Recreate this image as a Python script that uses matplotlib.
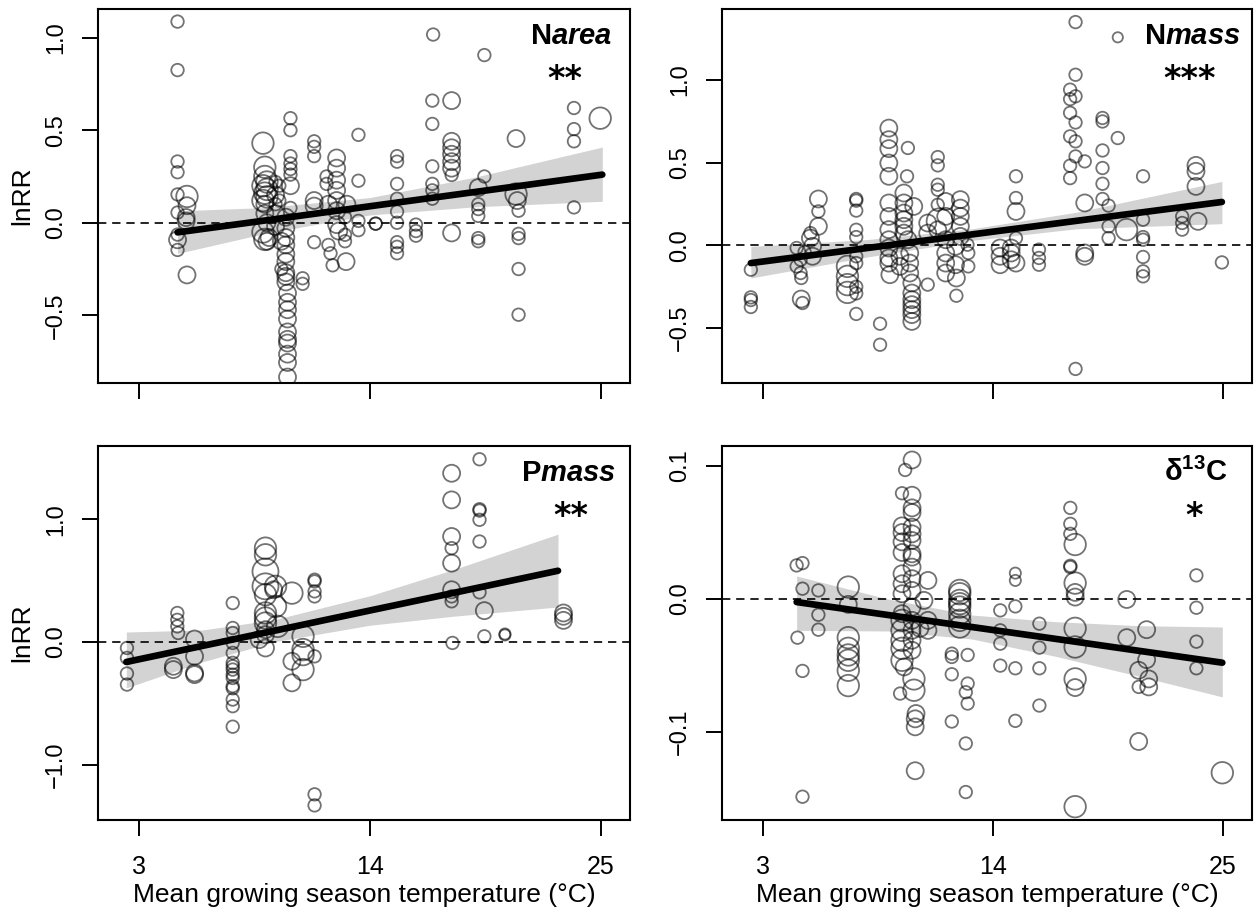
import numpy as np
import matplotlib
matplotlib.use('Agg')
import matplotlib.pyplot as plt

plt.rcParams['font.family'] = ['Liberation Sans', 'DejaVu Sans']
plt.rcParams['mathtext.fontset'] = 'custom'
plt.rcParams['mathtext.it'] = 'Liberation Sans:italic:bold'
plt.rcParams['mathtext.rm'] = 'Liberation Sans:bold'
plt.rcParams['mathtext.bf'] = 'Liberation Sans:bold'

# ---- data (x = mean growing season temp, y = lnRR, w = weight) ----
narea_x = [4.84, 4.84, 4.84, 4.84, 4.84, 4.84, 4.84, 4.84, 4.84,
           5.29, 5.29, 5.25, 5.25, 5.29,
           8.91, 9.0, 9.0, 9.1, 8.91, 9.1, 9.0, 9.1, 8.91, 9.0, 9.0, 9.1, 8.91, 9.0, 9.2, 9.1,
           9.51, 9.51, 9.51, 9.51, 9.51, 9.69, 9.69,
           10.22, 10.22, 10.22, 10.22, 10.22, 10.22, 10.22, 10.22, 10.0, 10.0, 10.0, 10.0, 10.0,
           10.0, 10.0, 10.0, 10.0, 10.08, 10.08, 10.08, 10.08, 10.08, 10.08, 10.08, 10.08, 10.08,
           10.08, 9.79, 9.79,
           10.80, 10.80,
           11.35, 11.35, 11.35, 11.35, 11.35, 11.35,
           11.94, 11.94, 12.03, 12.03, 12.13, 12.23,
           12.42, 12.42, 12.42, 12.42, 12.42, 12.42, 12.42, 12.52,
           12.82, 12.82, 12.87, 12.91, 12.82,
           13.46, 13.46, 13.46, 13.46,
           14.28, 14.28,
           15.30, 15.30, 15.30, 15.30, 15.30, 15.30, 15.30, 15.30, 15.30,
           16.20, 16.20, 16.20,
           17.02, 16.98, 16.98, 16.98, 16.98, 16.98, 16.98,
           17.90, 17.90, 17.90, 17.90, 17.90, 17.90, 17.90, 17.90,
           19.46, 19.46, 19.17, 19.17, 19.17, 19.17, 19.17, 19.17,
           20.97, 20.97, 21.03, 21.09, 21.09, 21.09, 21.09, 21.09,
           23.73, 23.73, 23.73, 23.73,
           24.98]
narea_y = [1.087, 0.825, 0.331, 0.273, 0.153, 0.055, -0.064, -0.092, -0.147,
           0.142, 0.092, 0.028, 0.009, -0.282,
           0.43, 0.30, 0.25, 0.22, 0.20, 0.18, 0.16, 0.14, 0.12, 0.10, 0.05, 0.0, -0.05, -0.09, -0.08, -0.10,
           0.22, 0.15, 0.10, 0.05, -0.02, 0.20, 0.12,
           0.565, 0.50, 0.36, 0.32, 0.29, 0.26, 0.20, 0.08, 0.03, -0.03, -0.08, -0.12, -0.17,
           -0.21, -0.27, -0.29, -0.32, -0.38, -0.43, -0.47, -0.52, -0.59, -0.63, -0.65, -0.71, -0.755,
           -0.834, -0.25, -0.10,
           -0.30, -0.33,
           0.44, 0.41, 0.36, 0.12, 0.09, -0.105,
           0.25, 0.21, 0.10, -0.12, -0.165, -0.23,
           0.35, 0.295, 0.23, 0.175, 0.12, 0.065, -0.01, -0.045,
           -0.065, -0.10, -0.21, 0.10, 0.03,
           0.475, 0.227, 0.01, -0.04,
           -0.005, -0.005,
           0.36, 0.33, 0.21, 0.13, 0.06, 0.0, -0.105, -0.13, -0.165,
           -0.01, -0.045, -0.07,
           1.017, 0.66, 0.534, 0.305, 0.21, 0.175, 0.13,
           0.66, 0.44, 0.405, 0.37, 0.33, 0.295, 0.258, -0.055,
           0.906, 0.25, 0.19, 0.10, 0.074, 0.037, -0.083, -0.10,
           0.455, 0.155, 0.12, 0.065, -0.06, -0.083, -0.25, -0.497,
           0.62, 0.506, 0.44, 0.083,
           0.565]
narea_w = [1, 1, 1, 1, 1, 1, 1, 2, 1,
           3, 2, 2, 2, 2,
           3, 3, 3, 3, 3, 3, 3, 3, 3, 2, 2, 2, 3, 3, 2, 2,
           1, 2, 1, 2, 2, 1, 1,
           1, 1, 1, 1, 1, 1, 2, 1, 2, 2, 2, 2, 2,
           2, 2, 2, 2, 2, 2, 2, 2, 2, 2, 2, 2, 2,
           2, 1, 2,
           1, 1,
           1, 1, 1, 2, 2, 1,
           1, 1, 2, 1, 1, 1,
           2, 2, 2, 2, 2, 2, 2, 2,
           1, 1, 2, 2, 1,
           1, 1, 1, 1,
           1, 1,
           1, 1, 1, 1, 1, 1, 1, 1, 1,
           1, 1, 1,
           1, 1, 1, 1, 1, 1, 1,
           2, 2, 2, 2, 2, 2, 1, 2,
           1, 1, 2, 1, 1, 1, 1, 1,
           2, 3, 2, 1, 1, 1, 1, 1,
           1, 1, 1, 1,
           3]

nmass_x = [2.43, 2.43, 2.43, 2.43,
           4.62, 4.62, 4.81, 4.84, 4.84, 4.90, 4.81, 5.00,
           5.66, 5.66, 5.66, 5.28, 5.28, 5.38, 5.38,
           7.05, 7.05, 7.05, 7.05,
           7.47, 7.47, 7.47, 7.47, 7.47, 7.47, 7.47, 7.47, 7.47, 7.47,
           8.61, 8.61,
           9.03, 9.03, 9.03, 9.03, 9.03, 9.03, 9.03, 9.03, 9.03, 9.03, 9.03, 9.03, 9.08,
           9.75, 9.94, 9.90, 9.75, 9.75, 9.75, 9.75, 9.75, 9.94, 10.03, 10.03, 10.03, 10.13, 10.13,
           10.13, 10.13, 10.13, 10.13, 10.13, 10.22, 9.56, 9.56,
           10.89, 10.89, 10.89,
           11.37, 11.37, 11.37, 11.37, 11.37, 11.37, 11.46,
           11.75, 11.75, 11.75, 11.75, 11.75, 11.75,
           12.45, 12.45, 12.45, 12.45, 12.45, 12.22, 12.22, 12.26, 12.26, 12.79, 12.83, 12.83,
           14.35, 14.35, 14.35, 14.88, 14.88, 15.11, 15.11, 15.11, 15.11, 15.11, 14.88,
           16.21, 16.21, 16.21,
           17.96, 17.96, 17.70, 17.96, 17.70, 17.70, 17.96, 17.70, 17.96, 17.96, 17.70, 17.70,
           18.40, 18.40, 18.40, 18.40, 17.96,
           19.25, 19.25, 19.25, 19.25, 19.25, 19.25, 19.54, 19.54, 19.54, 19.98, 19.98,
           20.40,
           21.19, 21.19, 21.19, 21.19, 21.19, 21.19, 21.19,
           23.72, 23.72, 23.72, 23.82, 23.06, 23.06, 23.06,
           24.96]
nmass_y = [-0.147, -0.314, -0.33, -0.372,
           -0.016, -0.127, -0.167, -0.197, -0.324, -0.348, -0.087, -0.04,
           0.28, 0.205, 0.115, 0.074, 0.044, -0.006, -0.066,
           -0.127, -0.187, -0.237, -0.284,
           0.28, 0.27, 0.21, 0.094, 0.05, -0.066, -0.107, -0.25, -0.29, -0.414,
           -0.473, -0.60,
           0.708, 0.638, 0.584, 0.497, 0.417, 0.256, 0.175, 0.095, 0.034, -0.016, -0.076, -0.107, -0.177,
           0.316, 0.588, 0.417, 0.256, 0.195, 0.155, 0.115, 0.074, 0.034, -0.046, -0.107, -0.167, -0.227, -0.288,
           -0.328, -0.358, -0.388, -0.418, -0.459, 0.235, -0.066, -0.127,
           -0.237, 0.135, 0.074,
           0.533, 0.483, 0.366, 0.336, 0.245, 0.094, 0.145,
           0.265, 0.175, 0.034, -0.046, -0.107, -0.167,
           0.276, 0.225, 0.175, 0.115, 0.054, -0.006, -0.117, -0.197, -0.304, 0.004, -0.046, -0.127,
           -0.016, -0.066, -0.117, -0.046, -0.087, 0.417, 0.286, 0.205, 0.044, -0.107, -0.016,
           -0.026, -0.076, -0.117,
           1.348, 1.03, 0.94, 0.90, 0.883, 0.80, 0.742, 0.658, 0.628, 0.537, 0.481, 0.406,
           0.507, 0.256, -0.046, -0.066, -0.746,
           0.769, 0.748, 0.573, 0.467, 0.372, 0.28, 0.24, 0.115, 0.044, 1.256, 0.648,
           0.095,
           0.417, 0.155, 0.05, 0.034, -0.07, -0.157, -0.187,
           0.483, 0.447, 0.356, 0.145, 0.175, 0.135, 0.095,
           -0.103]
nmass_w = [1, 1, 1, 1,
           1, 1, 1, 1, 2, 1, 1, 1,
           2, 1, 2, 1, 2, 2, 2,
           3, 3, 3, 3,
           1, 1, 1, 1, 1, 1, 1, 1, 1, 1,
           1, 1,
           2, 2, 2, 2, 2, 2, 2, 2, 2, 2, 2, 2, 2,
           2, 1, 1, 2, 2, 2, 2, 2, 2, 2, 2, 2, 2, 2,
           2, 2, 2, 2, 2, 2, 2, 2,
           1, 2, 2,
           1, 1, 1, 1, 1, 2, 4,
           2, 2, 2, 2, 2, 2,
           2, 2, 2, 2, 2, 2, 2, 2, 1, 1, 1, 1,
           2, 2, 2, 2, 2, 1, 1, 2, 1, 2, 2,
           1, 1, 1,
           1, 1, 1, 1, 1, 1, 1, 1, 1, 1, 1, 1,
           1, 2, 2, 2, 1,
           1, 1, 1, 1, 1, 1, 1, 1, 1, 0.5, 1,
           3,
           1, 1, 1, 1, 1, 1, 1,
           2, 2, 2, 2, 1, 1, 1,
           1]

pmass_x = [2.43, 2.43, 2.43, 2.43,
           4.83, 4.83, 4.83, 4.87, 4.64, 4.64,
           5.65, 5.65, 5.65, 5.65,
           7.47, 7.47, 7.47, 7.47, 7.47, 7.47, 7.47, 7.47, 7.47, 7.47, 7.47, 7.47, 7.47, 7.47, 7.47,
           9.03, 9.03, 9.03, 9.03, 9.03, 9.03, 9.03, 9.03, 9.03, 9.03, 9.03, 8.73,
           9.51, 9.51, 9.61, 9.42,
           10.29, 10.29, 10.29,
           10.82, 10.82, 10.82, 10.82,
           11.37, 11.37, 11.37, 11.37, 11.37, 11.37, 11.37,
           17.90, 17.90, 17.90, 17.90, 17.90, 17.90, 17.90, 17.90, 17.94,
           19.23, 19.23, 19.23, 19.23, 19.23, 19.23,
           19.46, 19.46,
           20.44, 20.44,
           23.23, 23.23, 23.23]
pmass_y = [-0.049, -0.13, -0.257, -0.347,
           0.236, 0.18, 0.127, 0.073, -0.198, -0.225,
           0.024, -0.117, -0.252, -0.266,
           0.317, 0.114, 0.073, -0.008, -0.089, -0.17, -0.198, -0.225, -0.266, -0.293, -0.36, -0.377,
           -0.469, -0.523, -0.69,
           0.764, 0.71, 0.574, 0.453, 0.385, 0.236, 0.195, 0.154, 0.10, 0.06, -0.049, 0.019,
           0.453, 0.29, 0.127, 0.425,
           0.398, -0.157, -0.333,
           0.046, -0.062, -0.103, -0.225,
           0.507, 0.493, 0.412, 0.371, -0.117, -1.241, -1.331,
           1.374, 1.157, 0.859, 0.764, 0.642, 0.425, 0.371, 0.331, -0.008,
           1.488, 1.081, 1.07, 0.995, 0.818, 0.404,
           0.255, 0.046,
           0.065, 0.057,
           0.236, 0.209, 0.176]
pmass_w = [1, 1, 1, 1,
           1, 1, 1, 1, 2, 2,
           2, 2, 2, 2,
           1, 1, 1, 1, 1, 1, 1, 1, 1, 1, 1, 1, 1, 1, 1,
           3, 3, 4, 4, 3, 3, 3, 3, 2, 2, 2, 2,
           3, 3, 3, 2,
           3, 2, 2,
           3, 3, 3, 3,
           1, 1, 1, 1, 1, 1, 1,
           2, 2, 2, 1, 2, 2, 1, 1, 1,
           1, 1, 1, 1, 1, 1,
           2, 1,
           0.7, 0.7,
           2, 2, 2]

d13c_x = [4.62, 4.90, 4.90, 4.66, 4.90, 4.90,
          5.66, 5.66, 5.66,
          7.09, 7.09, 7.09, 7.09, 7.09, 7.09, 7.09, 7.09,
          10.14, 9.81, 9.66, 10.14, 10.14, 10.14, 9.66, 10.14, 9.66, 10.14, 9.66, 10.14, 9.66, 10.14,
          10.14, 10.14, 9.66, 10.14, 9.66, 9.66, 10.14, 9.66, 10.14, 9.66, 10.14, 9.66, 10.14, 9.66,
          10.14, 9.66, 10.14, 9.66, 9.76, 9.57, 10.23, 10.23, 10.33, 10.29, 10.29, 10.29, 10.90,
          10.90, 10.90, 10.71, 10.52,
          12.04, 12.04, 12.04, 12.04,
          12.42, 12.42, 12.42, 12.42, 12.42, 12.42, 12.42, 12.42,
          12.80, 12.80, 12.71, 12.80, 12.71, 12.71,
          14.36, 14.36, 14.36, 14.36,
          15.08, 15.08, 15.08, 15.08, 15.08,
          16.23, 16.23, 16.23, 16.23,
          17.71, 17.71, 17.71, 17.71, 17.71, 17.94, 17.94, 17.94, 17.94, 17.94, 17.94, 17.94, 17.94,
          17.94,
          20.41, 20.41, 20.98, 20.98, 20.98, 21.36, 21.36, 21.46, 21.46,
          23.74, 23.74, 23.74, 23.74,
          24.98]
d13c_y = [0.0253, 0.027, 0.0078, -0.029, -0.054, -0.1485,
          0.0065, -0.0118, -0.023,
          0.009, -0.004, -0.029, -0.037, -0.042, -0.046, -0.0535, -0.065,
          0.1045, 0.097, 0.0795, 0.078, 0.0685, 0.065, 0.055, 0.054, 0.050, 0.049, 0.043, 0.044, 0.035, 0.034,
          0.0315, 0.024, 0.019, 0.0153, 0.0115, 0.004, 0.0065, -0.011, -0.006, -0.016, -0.016, -0.0235,
          -0.0235, -0.031,
          -0.031, -0.037, -0.0385, -0.046, -0.051, -0.071, -0.06, -0.0685, -0.086, -0.09, -0.096, -0.129, 0.014,
          -0.016, -0.0235, -0.001, -0.022,
          -0.0435, -0.041, -0.0565, -0.092,
          0.0065, 0.004, -0.001, -0.0035, -0.006, -0.011, -0.016, -0.021,
          -0.042, -0.0635, -0.07, -0.0785, -0.1085, -0.145,
          -0.0085, -0.0235, -0.0335, -0.05,
          0.0195, 0.014, -0.0055, -0.052, -0.0915,
          -0.0185, -0.0365, -0.052, -0.08,
          0.0685, 0.0565, 0.049, 0.025, 0.024, 0.041, 0.012, 0.005, 0.0015, -0.022, -0.036, -0.06, -0.0665,
          -0.156,
          -0.0003, -0.029, -0.0535, -0.066, -0.107, -0.023, -0.0455, -0.06, -0.066,
          0.0178, -0.0065, -0.032, -0.052,
          -0.1305]
d13c_w = [1, 1, 1, 1, 1, 1,
          1, 1, 1,
          3, 2, 3, 3, 3, 3, 3, 3,
          2, 1, 1, 2, 2, 2, 2, 2, 2, 2, 2, 2, 2, 2,
          2, 2, 2, 2, 2, 2, 2, 2, 2, 3, 2, 3, 2, 3,
          2, 3, 2, 3, 2, 1, 3, 3, 2, 2, 2, 2, 2,
          2, 2, 2, 2,
          1, 1, 1, 1,
          3, 3, 3, 3, 3, 3, 3, 3,
          1, 1, 1, 1, 1, 1,
          1, 1, 1, 1,
          0.7, 0.7, 1, 1, 1,
          1, 1, 1, 1,
          1, 1, 1, 1, 1, 3, 3, 2, 2, 3, 3, 3, 2,
          3,
          2, 2, 2, 1, 2, 2, 2, 2, 2,
          1, 1, 1, 1,
          3]

# fitted line and 95% band, read at a few temperatures
narea_fx = [4.84, 9, 14, 19, 25.08]
narea_fy = [-0.052, 0.012, 0.089, 0.166, 0.26]
narea_lo = [-0.166, -0.058, 0.042, 0.086, 0.116]
narea_hi = [0.064, 0.082, 0.136, 0.246, 0.409]

nmass_fx = [2.43, 8, 13, 18, 24.96]
nmass_fy = [-0.107, -0.016, 0.066, 0.148, 0.262]
nmass_lo = [-0.197, -0.07, 0.03, 0.10, 0.131]
nmass_hi = [-0.006, 0.035, 0.10, 0.20, 0.386]

pmass_fx = [2.40, 6, 9.5, 14, 18, 22.97]
pmass_fy = [-0.163, -0.033, 0.093, 0.256, 0.40, 0.58]
pmass_lo = [-0.374, -0.163, 0.003, 0.136, 0.21, 0.285]
pmass_hi = [0.081, 0.097, 0.183, 0.376, 0.59, 0.878]

d13c_fx = [4.62, 9, 13, 17, 21, 24.98]
d13c_fy = [-0.00225, -0.012, -0.021, -0.0299, -0.0389, -0.0478]
d13c_lo = [-0.0235, -0.024, -0.030, -0.043, -0.058, -0.0735]
d13c_hi = [0.0173, 0.0, -0.012, -0.017, -0.020, -0.021]

xticks = [3, 14, 25]

fig = plt.figure(figsize=(12.54, 9.15), dpi=100)
W, H = 1254, 915
def box(l, t, r, b):
    return [l / W, 1 - b / H, (r - l) / W, (b - t) / H]

axes = [fig.add_axes(box(98, 9, 630, 383)), fig.add_axes(box(722, 9, 1252, 383)),
        fig.add_axes(box(98, 446, 630, 820)), fig.add_axes(box(722, 446, 1252, 820))]

# (data..., ylim, yticks, label, stars, label right edge, stars centre x) in axes fractions
panels = [
    (narea_x, narea_y, narea_w, narea_fx, narea_fy, narea_lo, narea_hi,
     (-0.866, 1.155), [-0.5, 0.0, 0.5, 1.0], 'N$area$', '**', 0.966, 0.878),
    (nmass_x, nmass_y, nmass_w, nmass_fx, nmass_fy, nmass_lo, nmass_hi,
     (-0.831, 1.427), [-0.5, 0.0, 0.5, 1.0], 'N$mass$', '***', 0.979, 0.883),
    (pmass_x, pmass_y, pmass_w, pmass_fx, pmass_fy, pmass_lo, pmass_hi,
     (-1.45, 1.596), [-1.0, 0.0, 1.0], 'P$mass$', '**', 0.974, 0.889),
    (d13c_x, d13c_y, d13c_w, d13c_fx, d13c_fy, d13c_lo, d13c_hi,
     (-0.166, 0.115), [-0.1, 0.0, 0.1], 'δ$^{13}$C', '*', 0.955, 0.890),
]

for i, (ax, p) in enumerate(zip(axes, panels)):
    x, y, w, fx, fy, lo, hi, ylim, yt, lab, stars, lab_x, st_x = p
    diam = (8 + 4.5 * np.asarray(w)) * 0.72          # marker diameter in points
    ax.fill_between(fx, lo, hi, color='#d3d3d3', lw=0, zorder=1)
    ax.axhline(0, color='black', lw=1.2, ls=(0, (5, 3.5)), zorder=2)
    ax.scatter(x, y, s=diam ** 2, facecolors='none', edgecolors=(0, 0, 0, 0.55),
               linewidths=1.3, zorder=3)
    ax.plot(fx, fy, color='black', lw=4.8, solid_capstyle='round', zorder=4)
    ax.set_xlim(1.05, 26.4); ax.set_ylim(ylim)
    ax.set_xticks(xticks)
    ax.set_yticks(yt)
    ax.set_yticklabels([f'{v:.1f}'.replace('-', '\u2212') for v in yt],
                       rotation=90, va='center', fontsize=17)
    if i >= 2:
        ax.set_xticklabels([str(v) for v in xticks], fontsize=18)
        ax.set_xlabel('Mean growing season temperature (°C)', fontsize=19)
        ax.xaxis.set_label_coords(0.5, -0.219)
        ax.xaxis.label.set_va('baseline')
    else:
        ax.set_xticklabels([])
    if i % 2 == 0:
        ax.set_ylabel('lnRR', fontsize=19)
        ax.yaxis.set_label_coords(-0.143, 0.5)
        ax.yaxis.label.set_va('center')
    ax.tick_params(axis='both', direction='out', length=11.5, width=1.4, color='black')
    ax.tick_params(axis='x', pad=14)
    ax.tick_params(axis='y', pad=11)
    for s in ax.spines.values():
        s.set_linewidth(1.5)
    ax.text(lab_x, 0.906, lab, transform=ax.transAxes, ha='right', va='baseline',
            fontsize=21, fontweight='bold')
    ax.text(st_x, 0.787, stars, transform=ax.transAxes, ha='center', va='baseline',
            fontsize=24, fontweight='bold', family='DejaVu Sans')

fig.savefig('out.png', dpi=100)
